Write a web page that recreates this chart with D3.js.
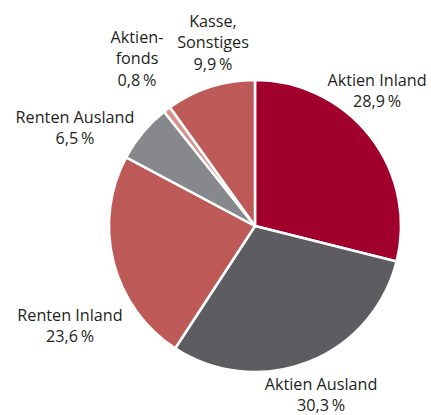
<!DOCTYPE html>
<html>
<head>
<meta charset="utf-8">
<script src="https://cdn.jsdelivr.net/npm/d3@7"></script>
<style>
  body { margin: 0; background: #fff; }
  text { font-family: "Open Sans", sans-serif; font-size: 16.2px; fill: #231f20; }
</style>
</head>
<body>
<div id="chart"></div>
<script>
"use strict";

// data, clockwise from 12 o'clock
var categories = ["Aktien Inland", "Aktien Ausland", "Renten Inland", "Renten Ausland", "Aktienfonds", "Kasse, Sonstiges"];
var values = [28.9, 30.3, 23.6, 6.5, 0.8, 9.9];
var labelLines = [["Aktien Inland"], ["Aktien Ausland"], ["Renten Inland"], ["Renten Ausland"], ["Aktien-", "fonds"], ["Kasse,", "Sonstiges"]];
var colors = ["#a0002b", "#5c5c61", "#bd5a58", "#87888c", "#d9928e", "#bd5a58"];

// label anchor offsets from pie centre (first line baseline)
var labelPos = [[122, -140], [66, 164], [-185, 95], [-180, -103], [-118, -183], [-42, -199]];

var width = 431, height = 415;
var cx = 255, cy = 226, radius = 146;
var lineH = 21.3;

var svg = d3.select("#chart").append("svg")
    .attr("width", width)
    .attr("height", height);

var g = svg.append("g")
    .attr("transform", "translate(" + cx + "," + cy + ")");

var pie = d3.pie().sort(null).value(function(d) { return d; });
var arc = d3.arc().innerRadius(0).outerRadius(radius);

var arcs = pie(values);

g.selectAll("path")
    .data(arcs)
    .enter().append("path")
    .attr("d", arc)
    .attr("fill", function(d, i) { return colors[i]; })
    .attr("stroke", "#fff")
    .attr("stroke-width", 2.5)
    .attr("stroke-linejoin", "round");

var fmt = function(v) { return d3.format(".1f")(v).replace(".", ",") + "\u2009%"; };

var labels = g.selectAll("text.label")
    .data(arcs)
    .enter().append("text")
    .attr("class", "label")
    .attr("text-anchor", "middle")
    .attr("transform", function(d, i) { return "translate(" + labelPos[i][0] + "," + labelPos[i][1] + ")"; });

labels.each(function(d, i) {
    var t = d3.select(this);
    var lines = labelLines[i].concat([fmt(values[i])]);
    lines.forEach(function(l, j) {
        t.append("tspan").attr("x", 0).attr("y", j * lineH).text(l);
    });
});
</script>
</body>
</html>
